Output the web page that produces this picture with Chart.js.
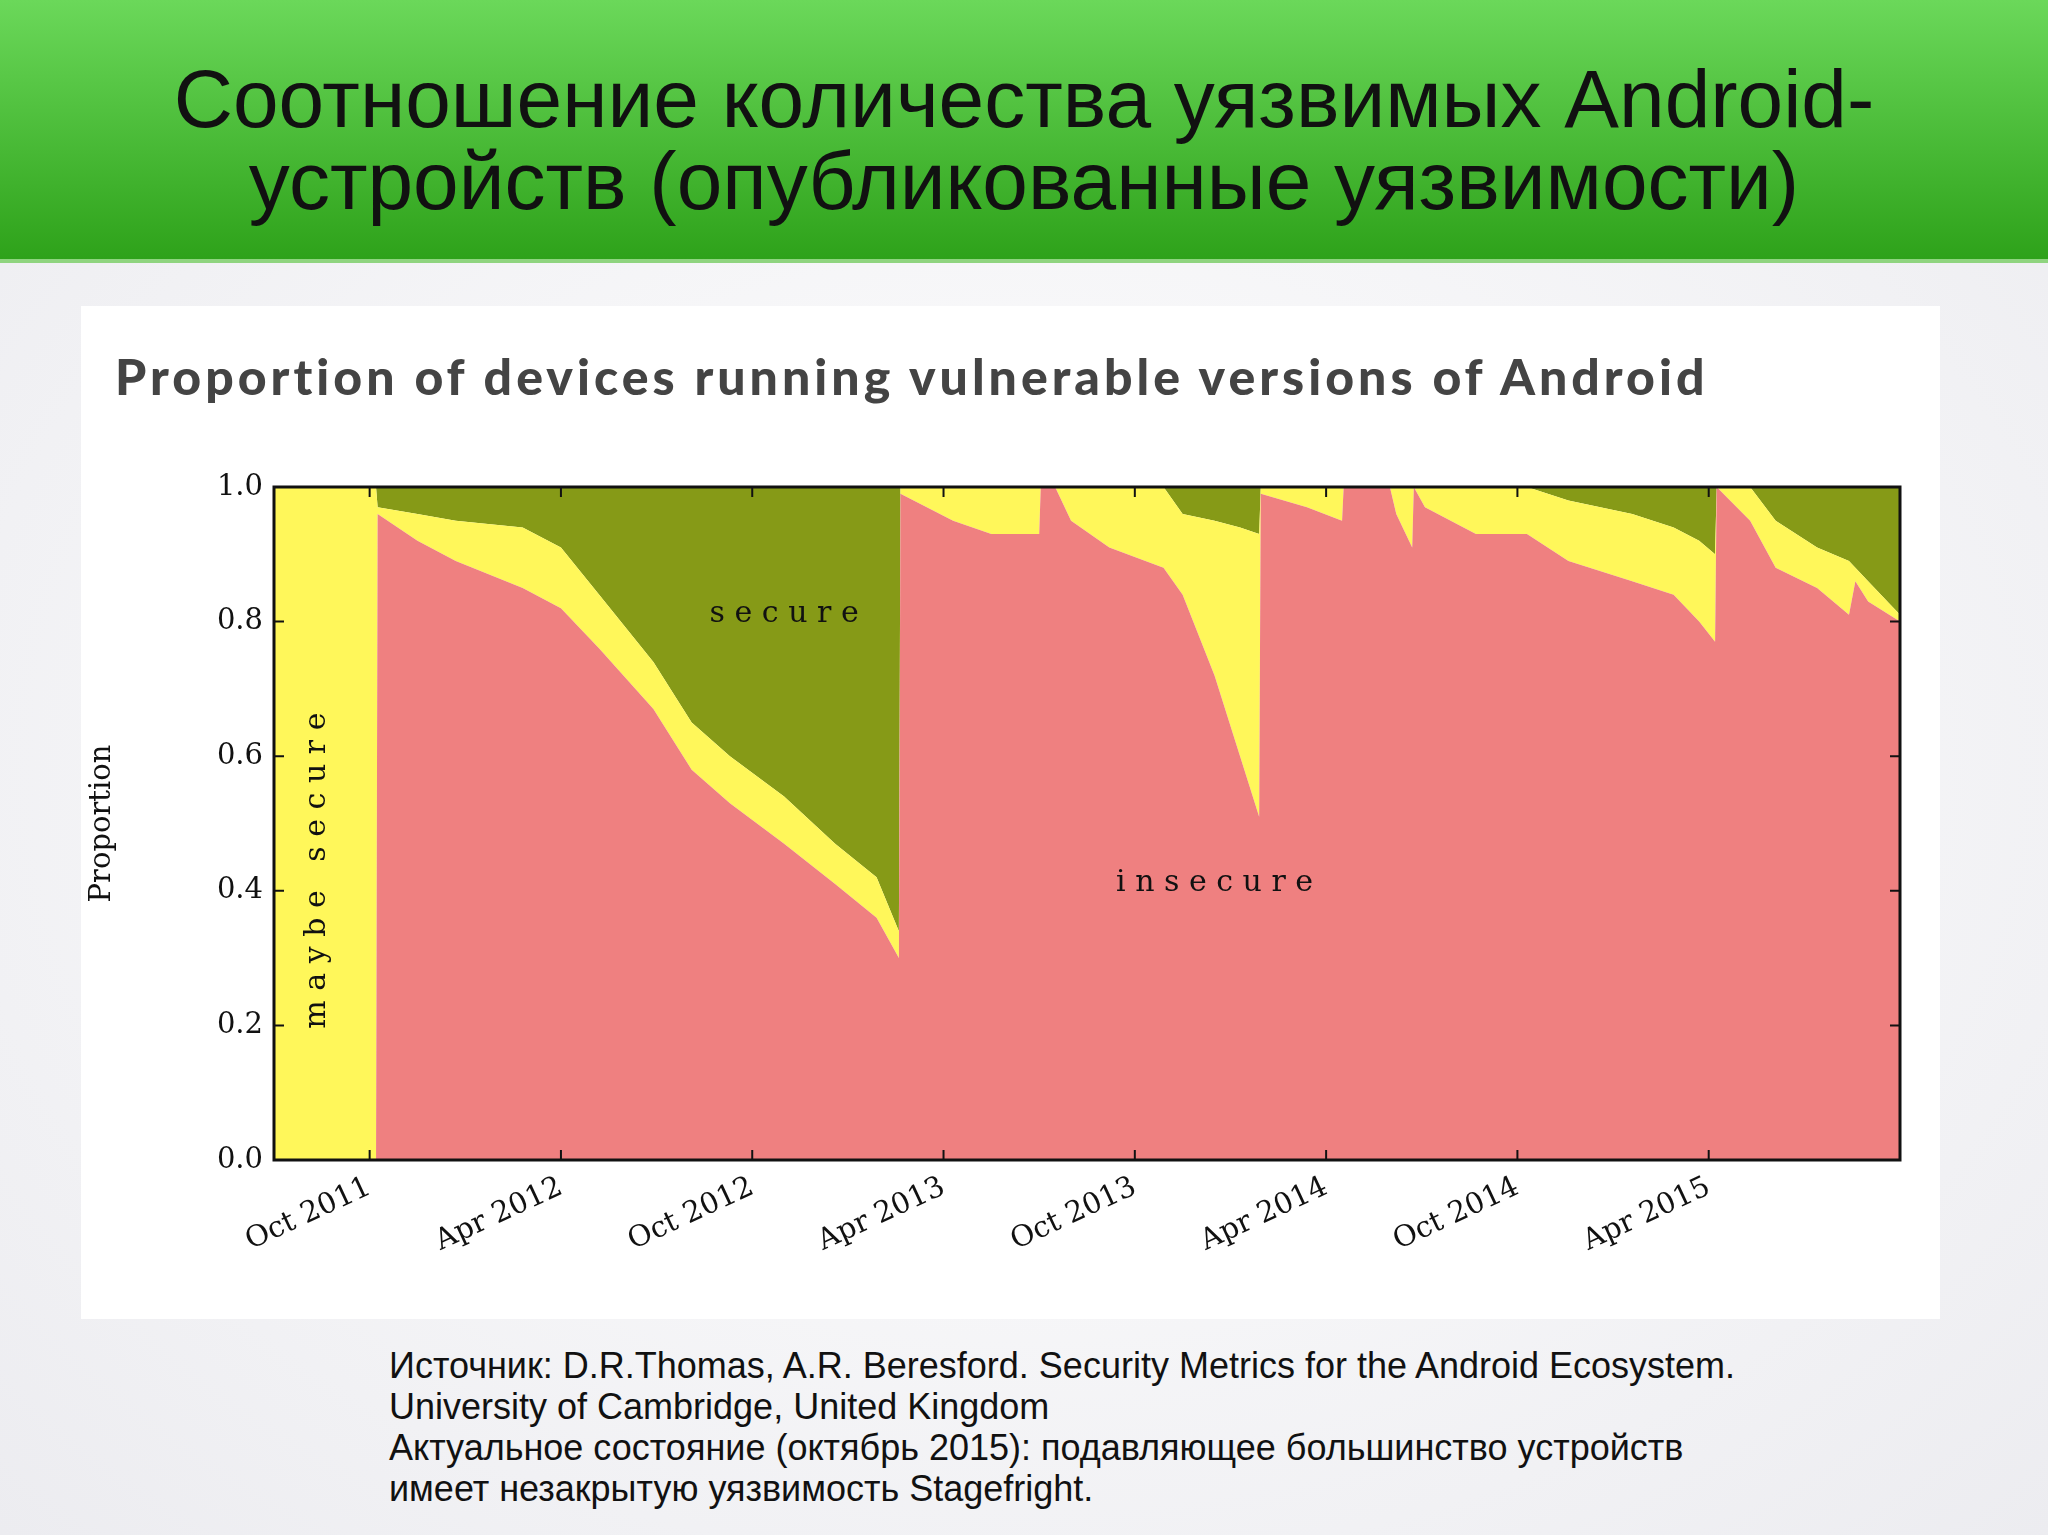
<!DOCTYPE html>
<html lang="ru">
<head>
<meta charset="UTF-8">
<script src="https://cdn.jsdelivr.net/npm/chart.js@4.4.0/dist/chart.umd.min.js"></script>
<title>Android vulnerable devices</title>
<style>
  body { margin:0; width:2048px; height:1535px; position:relative; overflow:hidden;
         background: radial-gradient(ellipse at center, #ffffff 0%, #ececf0 100%); font-family:"Liberation Sans", Arial, sans-serif; }
  .header { position:absolute; left:0; top:0; width:2048px; height:259px;
            background: linear-gradient(#6bd85a, #2ea21a); border-bottom:4px solid #8fd47f; }
  .header h1 { margin:0; padding-top:58px; text-align:center; font-weight:normal; font-size:82px; line-height:82px; color:#111; }
  .panel { position:absolute; left:81px; top:306px; width:1859px; height:1013px; background:#fff; }
  .panel h2 { position:absolute; left:34px; top:40px; margin:0; font-family:Lato, sans-serif; font-weight:900;
              font-size:50px; color:#444; letter-spacing:4px; }
  .wrap { position:absolute; left:0; top:134px; width:1859px; height:879px; }
  .caption { position:absolute; left:389px; top:1345px; font-size:36px; line-height:41px; color:#111; }
</style>
</head>
<body>
<div class="header"><h1>Соотношение количества уязвимых Android-<br>устройств (опубликованные уязвимости)</h1></div>
<div class="panel">
  <h2>Proportion of devices running vulnerable versions of Android</h2>
  <div class="wrap"><canvas id="chart" width="1859" height="879"></canvas></div>
</div>
<div class="caption">
Источник: D.R.Thomas, A.R. Beresford. Security Metrics for the Android Ecosystem.<br>
University of Cambridge, United Kingdom<br>
Актуальное состояние (октябрь 2015): подавляющее большинство устройств<br>
имеет незакрытую уязвимость Stagefright.
</div>
<script>
// months since Jul 2011
const months = [0, 3.2, 3.25, 4.5, 5.7, 7.8, 9, 10.2, 11.9, 13.1, 14.3, 16, 17.6, 18.9, 19.6, 19.65,
  21.3, 22.5, 24, 24.05, 24.5, 25, 26.2, 27.9, 28.5, 29.5, 30.3, 30.9, 30.95, 32.4, 33.5, 33.55, 35,
  35.2, 35.7, 35.75, 36.1, 37.7, 39.3, 40.6, 42.6, 43.9, 44.7, 45.2, 45.25, 46.3, 47.1, 48.4, 49.4,
  49.6, 50, 51];
const insecure = [0, 0, 0.96, 0.92, 0.89, 0.85, 0.82, 0.76, 0.67, 0.58, 0.53, 0.47, 0.41, 0.36, 0.30, 0.99,
  0.95, 0.93, 0.93, 1.0, 1.0, 0.95, 0.91, 0.88, 0.84, 0.72, 0.60, 0.51, 0.99, 0.97, 0.95, 1.0, 1.0,
  0.96, 0.91, 1.0, 0.97, 0.93, 0.93, 0.89, 0.86, 0.84, 0.80, 0.77, 1.0, 0.95, 0.88, 0.85, 0.81,
  0.86, 0.83, 0.80];
const maybeTop = [1, 1, 0.97, 0.96, 0.95, 0.94, 0.91, 0.84, 0.74, 0.65, 0.60, 0.54, 0.47, 0.42, 0.34, 1.0,
  1.0, 1.0, 1.0, 1.0, 1.0, 1.0, 1.0, 1.0, 0.96, 0.95, 0.94, 0.93, 1.0, 1.0, 1.0, 1.0, 1.0,
  1.0, 1.0, 1.0, 1.0, 1.0, 1.0, 0.98, 0.96, 0.94, 0.92, 0.90, 1.0, 1.0, 0.95, 0.91, 0.89,
  0.88, 0.86, 0.81];
const tickMonths = [3, 9, 15, 21, 27, 33, 39, 45];
const tickLabels = ['Oct 2011', 'Apr 2012', 'Oct 2012', 'Apr 2013', 'Oct 2013', 'Apr 2014', 'Oct 2014', 'Apr 2015'];

const pts = arr => months.map((m, i) => ({x: m, y: arr[i]}));
const serif = '"DejaVu Serif", "Liberation Serif", serif';

const labelsPlugin = {
  id: 'labels',
  afterDraw(c) {
    const ctx = c.ctx, x = c.scales.x, y = c.scales.y;
    ctx.save();
    ctx.fillStyle = '#111';
    ctx.font = '30px ' + serif;
    ctx.textAlign = 'center';
    ctx.fillText('s e c u r e', x.getPixelForValue(16), y.getPixelForValue(0.8));
    ctx.fillText('i n s e c u r e', x.getPixelForValue(29.5), y.getPixelForValue(0.4));
    ctx.translate(x.getPixelForValue(1.6), y.getPixelForValue(0.43));
    ctx.rotate(-Math.PI / 2);
    ctx.fillText('m a y b e   s e c u r e', 0, 0);
    ctx.restore();
    // frame and inner tick marks
    ctx.save();
    ctx.strokeStyle = '#111'; ctx.lineWidth = 3;
    const a = c.chartArea;
    ctx.strokeRect(a.left, a.top, a.right - a.left, a.bottom - a.top);
    ctx.lineWidth = 2;
    ctx.beginPath();
    tickMonths.forEach(m => {
      const px = x.getPixelForValue(m);
      ctx.moveTo(px, a.bottom); ctx.lineTo(px, a.bottom - 10);
      ctx.moveTo(px, a.top); ctx.lineTo(px, a.top + 10);
    });
    [0.2, 0.4, 0.6, 0.8].forEach(v => {
      const py = y.getPixelForValue(v);
      ctx.moveTo(a.left, py); ctx.lineTo(a.left + 10, py);
      ctx.moveTo(a.right, py); ctx.lineTo(a.right - 10, py);
    });
    ctx.stroke();
    ctx.restore();
  }
};

new Chart(document.getElementById('chart'), {
  type: 'line',
  data: {
    datasets: [
      { label: 'insecure', data: pts(insecure), fill: 'origin', backgroundColor: '#ef8080', borderWidth: 0, pointRadius: 0, tension: 0 },
      { label: 'maybe secure', data: pts(maybeTop), fill: '-1', backgroundColor: '#fff75a', borderWidth: 0, pointRadius: 0, tension: 0 },
      { label: 'secure', data: pts(months.map(() => 1)), fill: '-1', backgroundColor: '#869a17', borderWidth: 0, pointRadius: 0, tension: 0 }
    ]
  },
  options: {
    responsive: false, animation: false,
    layout: { padding: { top: 47, right: 40, left: 0, bottom: 0 } },
    plugins: { legend: { display: false }, tooltip: { enabled: false } },
    scales: {
      x: {
        type: 'linear', min: 0, max: 51,
        afterBuildTicks: s => { s.ticks = tickMonths.map(v => ({value: v})); },
        afterFit: s => { s.height = 159; },
        grid: { display: false, drawTicks: false },
        border: { display: false },
        ticks: { autoSkip: false, maxRotation: 25, minRotation: 25, padding: 10, color: '#111', font: { family: serif, size: 29 },
                 callback: v => tickLabels[tickMonths.indexOf(v)] }
      },
      y: {
        min: 0, max: 1,
        afterFit: s => { s.width = 193; },
        grid: { display: false },
        border: { display: false },
        ticks: { stepSize: 0.2, color: '#111', font: { family: serif, size: 29 }, callback: v => v.toFixed(1) },
        title: { display: true, text: 'Proportion', color: '#111', font: { family: serif, size: 29 } }
      }
    }
  },
  plugins: [labelsPlugin]
});
</script>
</body>
</html>
